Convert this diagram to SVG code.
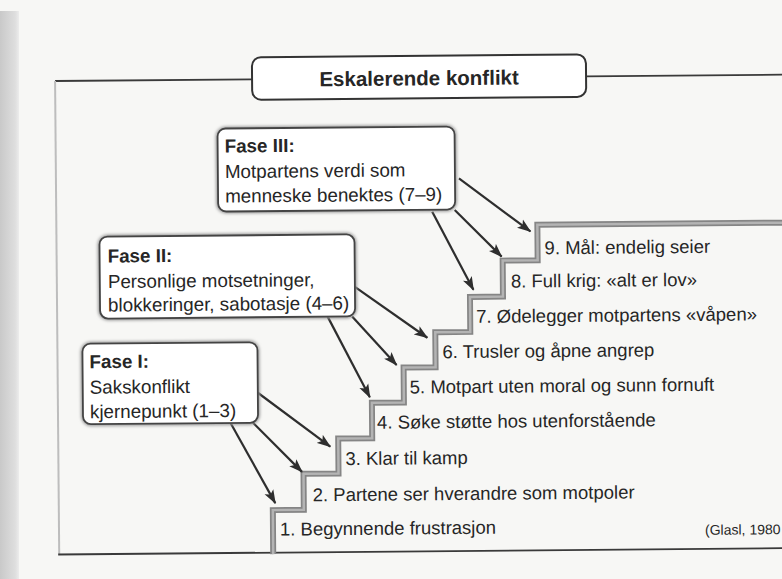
<svg xmlns="http://www.w3.org/2000/svg" width="782" height="579" viewBox="0 0 782 579">
  <defs>
    <linearGradient id="shade" x1="0" y1="0" x2="1" y2="0">
      <stop offset="0" stop-color="#c9c9c9"/>
      <stop offset="0.8" stop-color="#dedede"/>
      <stop offset="1" stop-color="#ececec"/>
    </linearGradient>
    <marker id="ah" viewBox="0 0 14 11" refX="13" refY="5.5" markerWidth="14" markerHeight="11" markerUnits="userSpaceOnUse" orient="auto">
      <path d="M0,0.5 L14,5.5 L0,10.5 L3.2,5.5 z" fill="#2e2e2e"/>
    </marker>
    <filter id="soft" x="-10%" y="-10%" width="120%" height="120%">
      <feGaussianBlur stdDeviation="1.4"/>
    </filter>
  </defs>
  <style>
    .txt { font-family: "Liberation Sans", Arial, sans-serif; fill: #262626; }
    .step { font-size: 18.5px; }
    .box { font-size: 18.8px; }
    .bold { font-weight: bold; }
    .phase { fill: #ffffff; stroke: #444; stroke-width: 1.8; }
    .phaseShadow { fill: none; stroke: #9a9a9a; stroke-width: 4; filter: url(#soft); }
    .arrow { stroke: #2e2e2e; stroke-width: 2.2; fill: none; marker-end: url(#ah); }
    .frame { stroke: #3a3a3a; stroke-width: 1.8; fill: none; }
  </style>
  <rect x="0" y="0" width="782" height="579" fill="#f7f7f5"/>
  <rect x="0" y="11" width="19" height="568" fill="url(#shade)"/>
  <g transform="rotate(-0.5 400 300)">
    <g id="frame">
      <line class="frame" x1="57" y1="78" x2="254" y2="78"/>
      <line class="frame" x1="588" y1="78" x2="795" y2="78"/>
      <line x1="57" y1="78" x2="57" y2="551.5" stroke="#bdbdbd" stroke-width="2"/>
      <line class="frame" x1="56" y1="551.5" x2="795" y2="551.5" stroke-width="2"/>
    </g>
    <g id="title">
      <rect x="254" y="56" width="334" height="42.5" rx="9" fill="#ffffff" stroke="#333" stroke-width="2"/>
      <text class="txt bold" x="421" y="85.5" font-size="20.5" text-anchor="middle">Eskalerende konflikt</text>
    </g>
    <g id="staircase">
      <path d="M271,553 V509 H302 V473 H337 V438 H371 V402.5 H403 V367.5 H435 V332.5 H470 V297.5 H503 V261.5 H538 V226 H795" fill="none" stroke="#858585" stroke-width="6"/>
      <path d="M271,553 V509 H302 V473 H337 V438 H371 V402.5 H403 V367.5 H435 V332.5 H470 V297.5 H503 V261.5 H538 V226 H795" fill="none" stroke="#b4b4b4" stroke-width="2.5"/>
    </g>
    <g id="step1"><text class="txt step" x="278" y="534.5">1. Begynnende frustrasjon</text></g>
    <g id="step2"><text class="txt step" x="311" y="500.5">2. Partene ser hverandre som motpoler</text></g>
    <g id="step3"><text class="txt step" x="344" y="464.5">3. Klar til kamp</text></g>
    <g id="step4"><text class="txt step" x="376" y="428.5">4. Søke støtte hos utenforstående</text></g>
    <g id="step5"><text class="txt step" x="409" y="393.5">5. Motpart uten moral og sunn fornuft</text></g>
    <g id="step6"><text class="txt step" x="442" y="358.5">6. Trusler og åpne angrep</text></g>
    <g id="step7"><text class="txt step" x="476" y="323.5">7. Ødelegger motpartens «våpen»</text></g>
    <g id="step8"><text class="txt step" x="511" y="288.5">8. Full krig: «alt er lov»</text></g>
    <g id="step9"><text class="txt step" x="545" y="255.5">9. Mål: endelig seier</text></g>
    <g id="source"><text class="txt" x="703" y="537.5" font-size="14">(Glasl, 1980</text></g>
    <g id="connectors">
      <line class="arrow" x1="460" y1="179" x2="531" y2="232.5"/>
      <line class="arrow" x1="455.5" y1="210.5" x2="502" y2="257.5"/>
      <line class="arrow" x1="433" y1="212" x2="473.5" y2="290.5"/>
      <line class="arrow" x1="355" y1="286.5" x2="427" y2="338"/>
      <line class="arrow" x1="352" y1="316" x2="396" y2="365"/>
      <line class="arrow" x1="327.5" y1="316" x2="369" y2="397"/>
      <line class="arrow" x1="257" y1="391.5" x2="329" y2="446"/>
      <line class="arrow" x1="252" y1="421.5" x2="300.5" y2="471"/>
      <line class="arrow" x1="229.5" y1="421.5" x2="273.5" y2="502"/>
    </g>
    <g id="fase3">
      <rect class="phaseShadow" x="219" y="127" width="237" height="83" rx="8"/>
      <rect class="phase" x="219" y="127" width="237" height="83" rx="8"/>
      <text class="txt box bold" x="226" y="151">Fase III:</text>
      <text class="txt box" x="226" y="176.5">Motpartens verdi som</text>
      <text class="txt box" x="226" y="201">menneske benektes (7–9)</text>
    </g>
    <g id="fase2">
      <rect class="phaseShadow" x="100" y="234" width="255" height="82" rx="8"/>
      <rect class="phase" x="100" y="234" width="255" height="82" rx="8"/>
      <text class="txt box bold" x="108" y="260">Fase II:</text>
      <text class="txt box" x="108" y="285.5">Personlige motsetninger,</text>
      <text class="txt box" x="108" y="309">blokkeringer, sabotasje (4–6)</text>
    </g>
    <g id="fase1">
      <rect class="phaseShadow" x="82" y="341" width="175" height="80.5" rx="8"/>
      <rect class="phase" x="82" y="341" width="175" height="80.5" rx="8"/>
      <text class="txt box bold" x="89" y="365.5">Fase I:</text>
      <text class="txt box" x="89" y="391">Sakskonflikt</text>
      <text class="txt box" x="89" y="415.5">kjernepunkt (1–3)</text>
    </g>
  </g>
</svg>
